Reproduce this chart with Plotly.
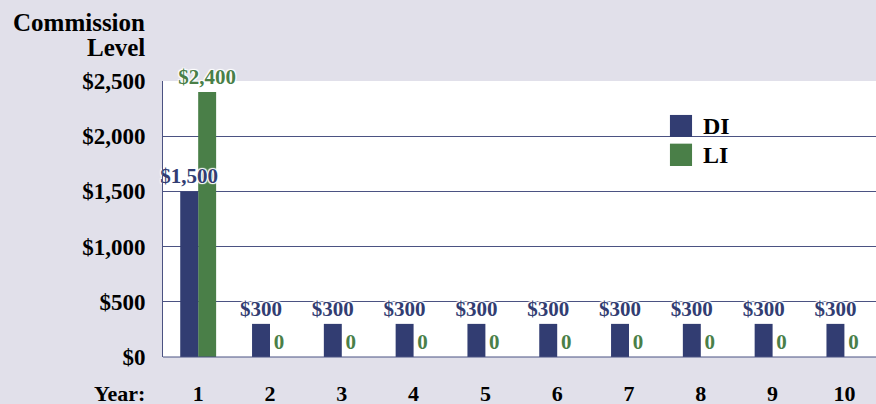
import plotly.graph_objects as go

years = [1, 2, 3, 4, 5, 6, 7, 8, 9, 10]
di_values = [1500, 300, 300, 300, 300, 300, 300, 300, 300, 300]
li_values = [2400, 0, 0, 0, 0, 0, 0, 0, 0, 0]
di_labels = ["$1,500"] + ["$300"] * 9
li_labels = ["$2,400"] + ["0"] * 9
y_ticks = [0, 500, 1000, 1500, 2000, 2500]
y_tick_labels = ["$0", "$500", "$1,000", "$1,500", "$2,000", "$2,500"]
series_names = ["DI", "LI"]

NAVY = "#323d72"
GREEN = "#4a7f48"
BG = "#e1e0ea"
GRID = "#4b5282"
FONT = "Liberation Serif"
halo = "1px 1px 1px white, -1px -1px 1px white, 1px -1px 1px white, -1px 1px 1px white"

BAR_W = 0.25

fig = go.Figure()
# LI drawn first so DI labels sit on top of the LI bar
fig.add_trace(go.Bar(
    x=years, y=li_values, name="LI", marker_color=GREEN, marker_line_width=0,
    width=BAR_W, offset=0,
    text=li_labels, textposition="outside", cliponaxis=False,
    constraintext="none",
    textfont=dict(family=FONT, size=21, color=GREEN, weight="bold", shadow=halo),
))
fig.add_trace(go.Bar(
    x=years, y=di_values, name="DI", marker_color=NAVY, marker_line_width=0,
    width=BAR_W, offset=-BAR_W,
    text=di_labels, textposition="outside", cliponaxis=False,
    constraintext="none",
    textfont=dict(family=FONT, size=21, color=NAVY, weight="bold", shadow=halo),
))

# custom legend (large swatches)
legend_shapes = []
legend_annots = []
sw_x0, sw_x1 = 0.711, 0.742
sw_rows = [(0.797, 0.877), (0.692, 0.773)]
for name, color, (y0, y1) in zip(series_names, [NAVY, GREEN], sw_rows):
    legend_shapes.append(dict(type="rect", xref="paper", yref="paper",
                              x0=sw_x0, x1=sw_x1, y0=y0, y1=y1,
                              fillcolor=color, line=dict(width=0)))
    legend_annots.append(dict(text=name, xref="paper", yref="paper",
                              x=0.754, y=(y0 + y1) / 2, xanchor="left", yanchor="middle",
                              showarrow=False,
                              font=dict(family=FONT, size=24, color="black", weight="bold")))

fig.update_layout(
    width=876, height=404,
    margin=dict(l=163, r=0, t=81, b=47, pad=0, autoexpand=False),
    paper_bgcolor=BG, plot_bgcolor="white",
    barmode="overlay",
    font=dict(family=FONT, color="black"),
    showlegend=False,
    xaxis=dict(
        range=[0.51, 10.44], tickvals=years, ticktext=[str(y) for y in years],
        showgrid=False, zeroline=False, showline=False, ticks="",
        ticklabelstandoff=21, automargin=False,
        tickfont=dict(family=FONT, size=22, color="black", weight="bold"),
        fixedrange=True,
    ),
    yaxis=dict(
        range=[0, 2500], tickvals=y_ticks, ticktext=y_tick_labels,
        showgrid=True, gridcolor=GRID, gridwidth=1,
        zeroline=False, showline=True, linecolor=GRID, linewidth=1, mirror=False,
        ticks="", ticklabelstandoff=12, automargin=False,
        tickfont=dict(family=FONT, size=23, color="black", weight="bold"),
        fixedrange=True,
    ),
    annotations=[
        dict(text="Commission", xref="paper", yref="paper",
             x=-0.0225, y=1.0, xanchor="right", yanchor="middle", yshift=59,
             showarrow=False,
             font=dict(family=FONT, size=25, color="black", weight="bold")),
        dict(text="Level", xref="paper", yref="paper",
             x=-0.0225, y=1.0, xanchor="right", yanchor="middle", yshift=34,
             showarrow=False,
             font=dict(family=FONT, size=25, color="black", weight="bold")),
        dict(text="Year:", xref="paper", yref="paper",
             x=-0.0225, y=0, xanchor="right", yanchor="top", yshift=-22,
             showarrow=False,
             font=dict(family=FONT, size=22, color="black", weight="bold")),
    ] + legend_annots,
    shapes=[
        dict(type="line", xref="paper", yref="paper", x0=0, x1=1, y0=0, y1=0,
             line=dict(color=GRID, width=1)),
    ] + legend_shapes,
)

fig.write_html(
    "out.html",
    config={"displayModeBar": False, "staticPlot": False},
    post_script="document.body.style.margin='0';document.body.style.overflow='hidden';",
)
